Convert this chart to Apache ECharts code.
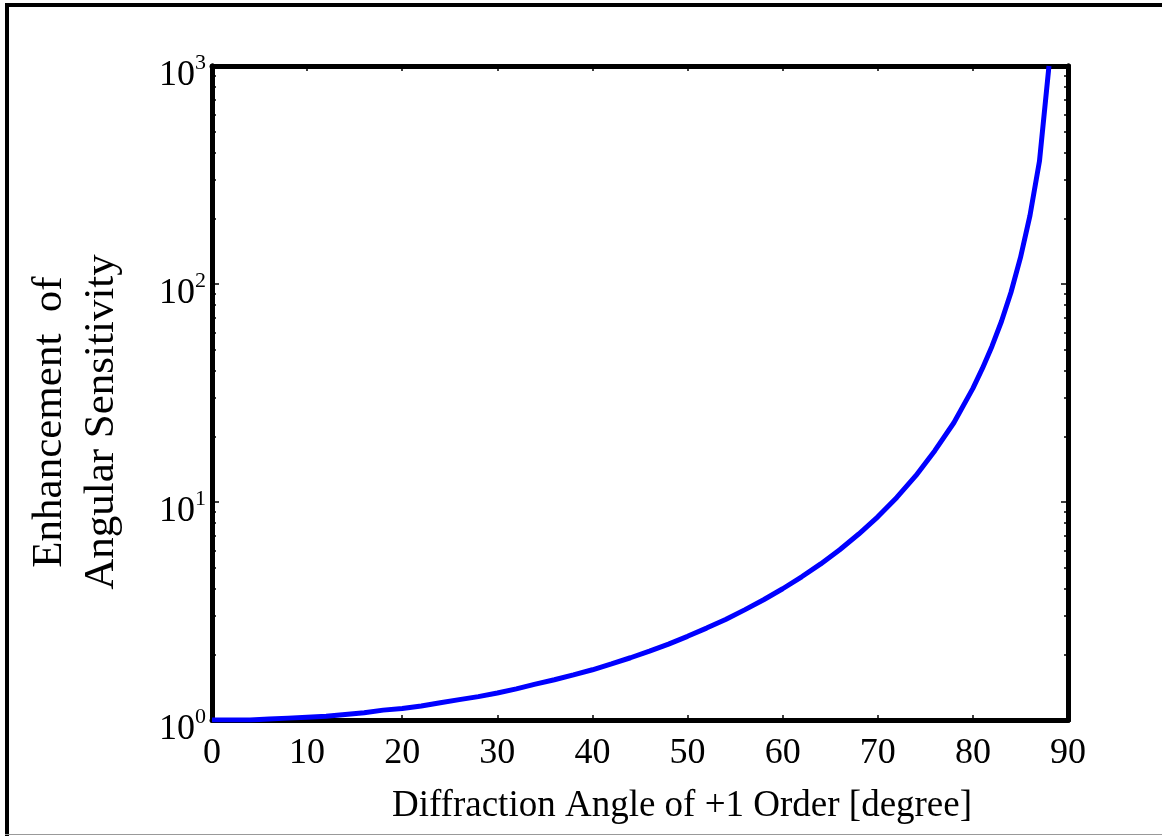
<!DOCTYPE html>
<html>
<head>
<meta charset="utf-8">
<script src="https://cdn.jsdelivr.net/npm/echarts@6/dist/echarts.min.js"></script>
<style>
  html, body { margin: 0; padding: 0; background: #fff; }
  #chart { width: 1162px; height: 836px; }
</style>
</head>
<body>
<div id="chart"></div>
<script>
// diffraction angle [deg] and enhancement
const angles = [0, 2, 4, 6, 8, 10, 12, 14, 16, 18, 20, 22, 24, 26, 28, 30, 32, 34, 36, 38,
  40, 42, 44, 46, 48, 50, 52, 54, 56, 58, 60, 62, 64, 66, 68, 70, 72, 74, 76, 78,
  80, 81, 82, 83, 84, 85, 86, 87, 88];
const enhancement = [1.00, 1.00, 1.00, 1.01, 1.02, 1.03, 1.04, 1.06, 1.08, 1.11, 1.13, 1.16, 1.20, 1.24, 1.28, 1.33, 1.39, 1.46, 1.53, 1.61,
  1.70, 1.81, 1.93, 2.07, 2.23, 2.42, 2.64, 2.89, 3.20, 3.56, 4.00, 4.54, 5.20, 6.04, 7.13, 8.55, 10.5, 13.2, 17.2, 23.1,
  33.2, 41.0, 51.7, 67.3, 91.4, 132, 206, 366, 1000];
const xTicks = [0, 10, 20, 30, 40, 50, 60, 70, 80, 90];
const yMajor = [1, 10, 100, 1000];
const yMinor = [2, 3, 4, 5, 6, 7, 8, 9, 20, 30, 40, 50, 60, 70, 80, 90, 200, 300, 400, 500, 600, 700, 800, 900];

const FONT = '"Liberation Serif", "DejaVu Serif", serif';
const frame = { show: true, lineStyle: { color: '#000', width: 5 } };

const chart = echarts.init(document.getElementById('chart'));

const yAxisOf = (pos, major, labels) => ({
  type: 'log', logBase: 10, min: 1, max: 1000, position: pos,
  axisLine: frame,
  axisTick: { show: true, inside: true, length: major ? 7 : 4,
    customValues: major ? yMajor : yMinor, lineStyle: { color: '#000', width: 1.5 } },
  axisLabel: labels ? {
    show: true, margin: 6, customValues: yMajor,
    formatter: (v) => '{b|10}{s|' + Math.round(Math.log10(v)) + '}',
    rich: {
      b: { fontFamily: FONT, fontSize: 36, color: '#000', padding: [20, 0, 0, 0] },
      s: { fontFamily: FONT, fontSize: 22, color: '#000', padding: [0, 0, 6, 0] }
    }
  } : { show: false },
  splitLine: { show: false }
});

const xAxisOf = (pos, labels) => ({
  type: 'value', min: 0, max: 90, interval: 10, position: pos,
  axisLine: frame,
  axisTick: { show: true, inside: true, length: 5, customValues: xTicks, lineStyle: { color: '#000', width: 1.5 } },
  axisLabel: labels ? { show: true, margin: 16, fontFamily: FONT, fontSize: 36, color: '#000' } : { show: false },
  splitLine: { show: false },
  name: labels ? 'Diffraction Angle of +1 Order [degree]' : '',
  nameLocation: 'middle', nameGap: 68,
  nameTextStyle: { fontFamily: FONT, fontSize: 37, color: '#000', padding: [0, 0, 0, 84] }
});

const option = {
  backgroundColor: '#fff',
  animation: false,
  grid: { left: 212, right: 94, top: 66, bottom: 116 },
  xAxis: [xAxisOf('bottom', true), xAxisOf('top', false)],
  yAxis: [
    yAxisOf('left', true, true),
    yAxisOf('left', false, false),
    yAxisOf('right', true, false),
    yAxisOf('right', false, false)
  ],
  graphic: [
    { type: 'rect', shape: { x: 5, y: 3, width: 1157, height: 4 }, style: { fill: '#000' }, silent: true },
    { type: 'rect', shape: { x: 5, y: 3, width: 4, height: 833 }, style: { fill: '#000' }, silent: true },
    { type: 'rect', shape: { x: 5, y: 834, width: 1157, height: 1 }, style: { fill: '#999' }, silent: true },
    {
      type: 'text', x: 76, y: 422, rotation: Math.PI / 2,
      style: {
        text: 'Enhancement  of\nAngular Sensitivity',
        fontFamily: FONT, fontSize: 43, lineHeight: 52, fill: '#000',
        align: 'center', verticalAlign: 'middle'
      }
    }
  ],
  series: [{
    type: 'line',
    xAxisIndex: 0, yAxisIndex: 0,
    data: angles.map((a, i) => [a, enhancement[i]]),
    showSymbol: false,
    clip: true,
    lineStyle: { color: '#0000ff', width: 5 },
    z: 1
  }]
};

chart.setOption(option);
</script>
</body>
</html>
